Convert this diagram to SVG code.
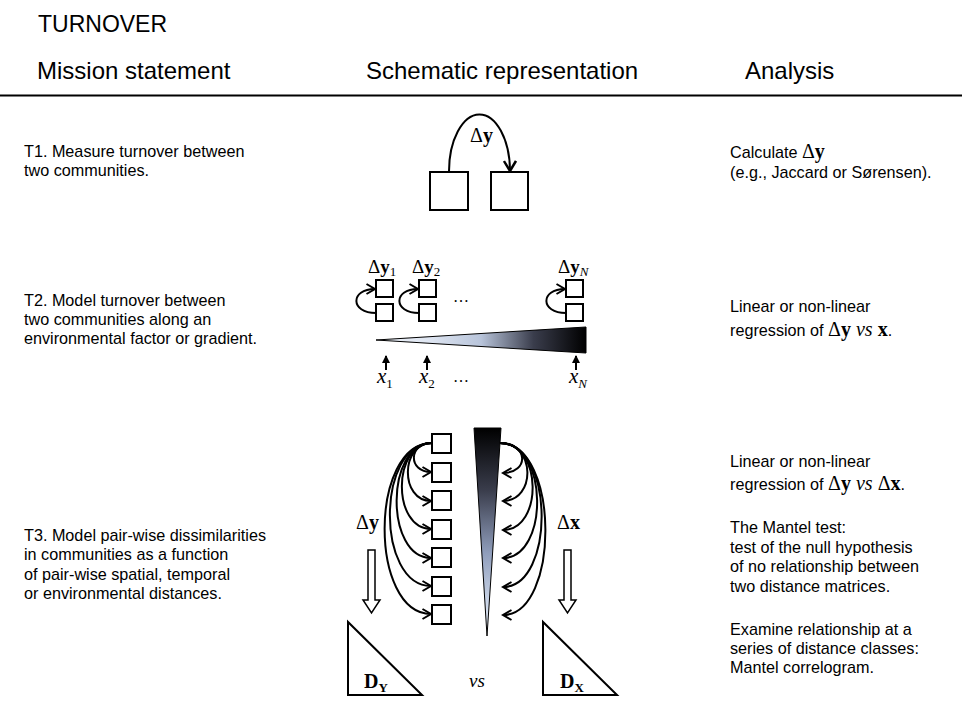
<svg xmlns="http://www.w3.org/2000/svg" width="962" height="704" viewBox="0 0 962 704">
<style>
  .sans { font-family: "Liberation Sans", Arial, sans-serif; fill: #000; }
  .hdr { font-size: 24px; }
  .body { font-size: 16.2px; }
  .serif { font-family: "Liberation Serif", "Times New Roman", serif; }
  .b { font-weight: bold; }
  .i { font-style: italic; }
  .box { fill: #fff; stroke: #000; stroke-width: 2; }
  .arc { fill: none; stroke: #000; stroke-width: 2; }
  .hollow { fill: #fff; stroke: #000; stroke-width: 1.5; }
  .tri { fill: #fff; stroke: #000; stroke-width: 2; stroke-linejoin: miter; }
  .wedge { stroke: #000; stroke-width: 1; }
</style>
<defs>
  <marker id="chevBig" markerUnits="userSpaceOnUse" viewBox="0 0 14 14" refX="12" refY="7" markerWidth="14" markerHeight="14" orient="auto">
    <path d="M2,1 L12,7 L2,13" fill="none" stroke="#000" stroke-width="2.5"/>
  </marker>
  <marker id="chev" markerUnits="userSpaceOnUse" viewBox="0 0 12 12" refX="10" refY="6" markerWidth="12" markerHeight="12" orient="auto">
    <path d="M1.5,1 L10,6 L1.5,11" fill="none" stroke="#000" stroke-width="2"/>
  </marker>
  <marker id="up" markerUnits="userSpaceOnUse" viewBox="0 0 8 8" refX="7" refY="4" markerWidth="8" markerHeight="8" orient="auto">
    <path d="M0,0 L8,4 L0,8 Z" fill="#000"/>
  </marker>
  <linearGradient id="gH" x1="586" y1="0" x2="376" y2="0" gradientUnits="userSpaceOnUse">
    <stop offset="0" stop-color="#000"/>
    <stop offset="0.25" stop-color="#3a3d4c"/>
    <stop offset="0.5" stop-color="#b8c4da"/>
    <stop offset="0.75" stop-color="#dfe6f2"/>
    <stop offset="1" stop-color="#eef2f8"/>
  </linearGradient>
  <linearGradient id="gV" x1="0" y1="428" x2="0" y2="636" gradientUnits="userSpaceOnUse">
    <stop offset="0" stop-color="#000"/>
    <stop offset="0.3" stop-color="#3a3d4c"/>
    <stop offset="0.6" stop-color="#8f9dbb"/>
    <stop offset="0.85" stop-color="#cdd8ea"/>
    <stop offset="1" stop-color="#e4ebf5"/>
  </linearGradient>
</defs>

<rect width="962" height="704" fill="#fff"/>

<!-- Header -->
<g id="header">
  <text class="sans" x="38" y="32" font-size="23">TURNOVER</text>
  <text class="sans hdr" x="37" y="79">Mission statement</text>
  <text class="sans hdr" x="366" y="79">Schematic representation</text>
  <text class="sans hdr" x="745" y="79">Analysis</text>
  <line x1="0" y1="95.5" x2="962" y2="95.5" stroke="#000" stroke-width="2"/>
</g>

<!-- Mission statements -->
<g id="mission-t1">
  <text class="sans body" x="24" y="157">T1. Measure turnover between</text>
  <text class="sans body" x="24" y="176">two communities.</text>
</g>
<g id="mission-t2">
  <text class="sans body" x="24" y="306">T2. Model turnover between</text>
  <text class="sans body" x="24" y="325">two communities along an</text>
  <text class="sans body" x="24" y="344">environmental factor or gradient.</text>
</g>
<g id="mission-t3">
  <text class="sans body" x="24" y="541">T3. Model pair-wise dissimilarities</text>
  <text class="sans body" x="24" y="560">in communities as a function</text>
  <text class="sans body" x="24" y="580">of pair-wise spatial, temporal</text>
  <text class="sans body" x="24" y="599">or environmental distances.</text>
</g>

<!-- Analysis -->
<g id="analysis-t1">
  <text class="sans body" x="730" y="158">Calculate <tspan class="serif" font-size="20">Δ</tspan><tspan class="serif b" font-size="20">y</tspan></text>
  <text class="sans body" x="730" y="178">(e.g., Jaccard or Sørensen).</text>
</g>
<g id="analysis-t2">
  <text class="sans body" x="730" y="312">Linear or non-linear</text>
  <text class="sans body" x="730" y="336">regression of <tspan class="serif" font-size="20">Δ</tspan><tspan class="serif b" font-size="20">y</tspan><tspan class="serif i" font-size="20"> vs </tspan><tspan class="serif b" font-size="20">x</tspan>.</text>
</g>
<g id="analysis-t3">
  <text class="sans body" x="730" y="467">Linear or non-linear</text>
  <text class="sans body" x="730" y="490">regression of <tspan class="serif" font-size="20">Δ</tspan><tspan class="serif b" font-size="20">y</tspan><tspan class="serif i" font-size="20"> vs </tspan><tspan class="serif" font-size="20">Δ</tspan><tspan class="serif b" font-size="20">x</tspan>.</text>
  <text class="sans body" x="730" y="533">The Mantel test:</text>
  <text class="sans body" x="730" y="553">test of the null hypothesis</text>
  <text class="sans body" x="730" y="572">of no relationship between</text>
  <text class="sans body" x="730" y="592">two distance matrices.</text>
  <text class="sans body" x="730" y="635">Examine relationship at a</text>
  <text class="sans body" x="730" y="654">series of distance classes:</text>
  <text class="sans body" x="730" y="673">Mantel correlogram.</text>
</g>

<!-- T1 schematic -->
<g id="t1-box-a"><rect class="box" x="430" y="172" width="38" height="38"/></g>
<g id="t1-box-b"><rect class="box" x="491" y="172" width="37" height="38"/></g>
<g id="t1-label"><text class="serif" x="470" y="142" font-size="20">Δ<tspan class="b">y</tspan></text></g>

<!-- T2 schematic -->
<g id="t2-pair-1">
  <rect class="box" x="376" y="280" width="17" height="17"/>
  <rect class="box" x="376" y="304" width="17" height="17"/>
  <text class="serif" x="368" y="273" font-size="19">Δ<tspan class="b">y</tspan><tspan font-size="13" dy="3">1</tspan></text>
</g>
<g id="t2-pair-2">
  <rect class="box" x="419" y="280" width="17" height="17"/>
  <rect class="box" x="419" y="304" width="17" height="17"/>
  <text class="serif" x="412" y="273" font-size="19">Δ<tspan class="b">y</tspan><tspan font-size="13" dy="3">2</tspan></text>
</g>
<g id="t2-pair-n">
  <rect class="box" x="566" y="280" width="17" height="17"/>
  <rect class="box" x="566" y="304" width="17" height="17"/>
  <text class="serif" x="558" y="273" font-size="19">Δ<tspan class="b">y</tspan><tspan class="i" font-size="13" dy="3">N</tspan></text>
</g>
<g id="t2-dots">
  <text class="serif" x="453" y="302" font-size="16">…</text>
  <text class="serif" x="453" y="382" font-size="16">…</text>
</g>
<g id="t2-gradient">
  <polygon class="wedge" points="376,340 586,327 586,353" fill="url(#gH)"/>
</g>
<g id="t2-x-labels">
  <text class="serif i" x="377" y="383" font-size="21">x<tspan font-style="normal" font-size="13" dy="5">1</tspan></text>
  <text class="serif i" x="419" y="383" font-size="21">x<tspan font-style="normal" font-size="13" dy="5">2</tspan></text>
  <text class="serif i" x="569" y="383" font-size="21">x<tspan font-size="13" dy="5">N</tspan></text>
</g>

<!-- T3 schematic -->
<g id="t3-boxes">
  <rect class="box" x="432" y="434" width="19" height="19"/>
  <rect class="box" x="432" y="463" width="19" height="19"/>
  <rect class="box" x="432" y="491" width="19" height="19"/>
  <rect class="box" x="432" y="520" width="19" height="19"/>
  <rect class="box" x="432" y="548" width="19" height="19"/>
  <rect class="box" x="432" y="577" width="19" height="19"/>
  <rect class="box" x="432" y="605" width="19" height="19"/>
</g>
<g id="t3-gradient">
  <polygon class="wedge" points="474,428 501,428 487,636" fill="url(#gV)"/>
</g>
<g id="t3-labels">
  <text class="serif" x="356" y="529" font-size="20">Δ<tspan class="b">y</tspan></text>
  <text class="serif" x="557" y="529" font-size="20">Δ<tspan class="b">x</tspan></text>
  <text class="serif i" x="477" y="687" font-size="19" text-anchor="middle">vs</text>
</g>
<g id="t3-hollow-left">
  <polygon class="hollow" points="368,550 375,550 375,600 380,600 371.5,613 363,600 368,600"/>
</g>
<g id="t3-hollow-right">
  <polygon class="hollow" points="564,550 571,550 571,600 576,600 567.5,613 559,600 564,600"/>
</g>
<g id="t3-matrix-y">
  <polygon class="tri" points="348,622 348,695 422,695"/>
  <text class="serif b" x="364" y="688" font-size="20">D<tspan font-size="13" dy="4">Y</tspan></text>
</g>
<g id="t3-matrix-x">
  <polygon class="tri" points="543,622 543,695 617,695"/>
  <text class="serif b" x="560" y="688" font-size="20">D<tspan font-size="13" dy="4">X</tspan></text>
</g>

<!-- Connectors -->
<g id="connectors">
  <path class="arc" stroke-width="2.5" d="M449,172 A30.5,57 0 0 1 510,171" marker-end="url(#chevBig)"/>

  <path class="arc" d="M376,313 C350,313 350,289 375,289" marker-end="url(#chev)"/>
  <path class="arc" d="M419,313 C393,313 393,289 418,289" marker-end="url(#chev)"/>
  <path class="arc" d="M566,313 C540,313 540,289 565,289" marker-end="url(#chev)"/>

  <line x1="386" y1="370" x2="386" y2="356" stroke="#000" stroke-width="2" marker-end="url(#up)"/>
  <line x1="427" y1="370" x2="427" y2="356" stroke="#000" stroke-width="2" marker-end="url(#up)"/>
  <line x1="576" y1="370" x2="576" y2="356" stroke="#000" stroke-width="2" marker-end="url(#up)"/>

  <path class="arc" d="M432,443 C408,443 408,472 431,472" marker-end="url(#chev)"/>
  <path class="arc" d="M432,443 C400,443 400,501 431,501" marker-end="url(#chev)"/>
  <path class="arc" d="M432,443 C392,443 392,529 431,529" marker-end="url(#chev)"/>
  <path class="arc" d="M432,443 C385,443 385,558 431,558" marker-end="url(#chev)"/>
  <path class="arc" d="M432,443 C376,443 376,586 431,586" marker-end="url(#chev)"/>
  <path class="arc" d="M432,443 C369,443 369,614 431,614" marker-end="url(#chev)"/>

  <path class="arc" d="M500,443 C529,443 529,473 503,473" marker-end="url(#chev)"/>
  <path class="arc" d="M500,443 C536,443 536,501 503,501" marker-end="url(#chev)"/>
  <path class="arc" d="M500,443 C543,443 543,530 503,530" marker-end="url(#chev)"/>
  <path class="arc" d="M500,443 C549,443 549,558 503,558" marker-end="url(#chev)"/>
  <path class="arc" d="M500,443 C555,443 555,587 503,587" marker-end="url(#chev)"/>
  <path class="arc" d="M500,443 C560,443 560,615 503,615" marker-end="url(#chev)"/>
</g>
</svg>
